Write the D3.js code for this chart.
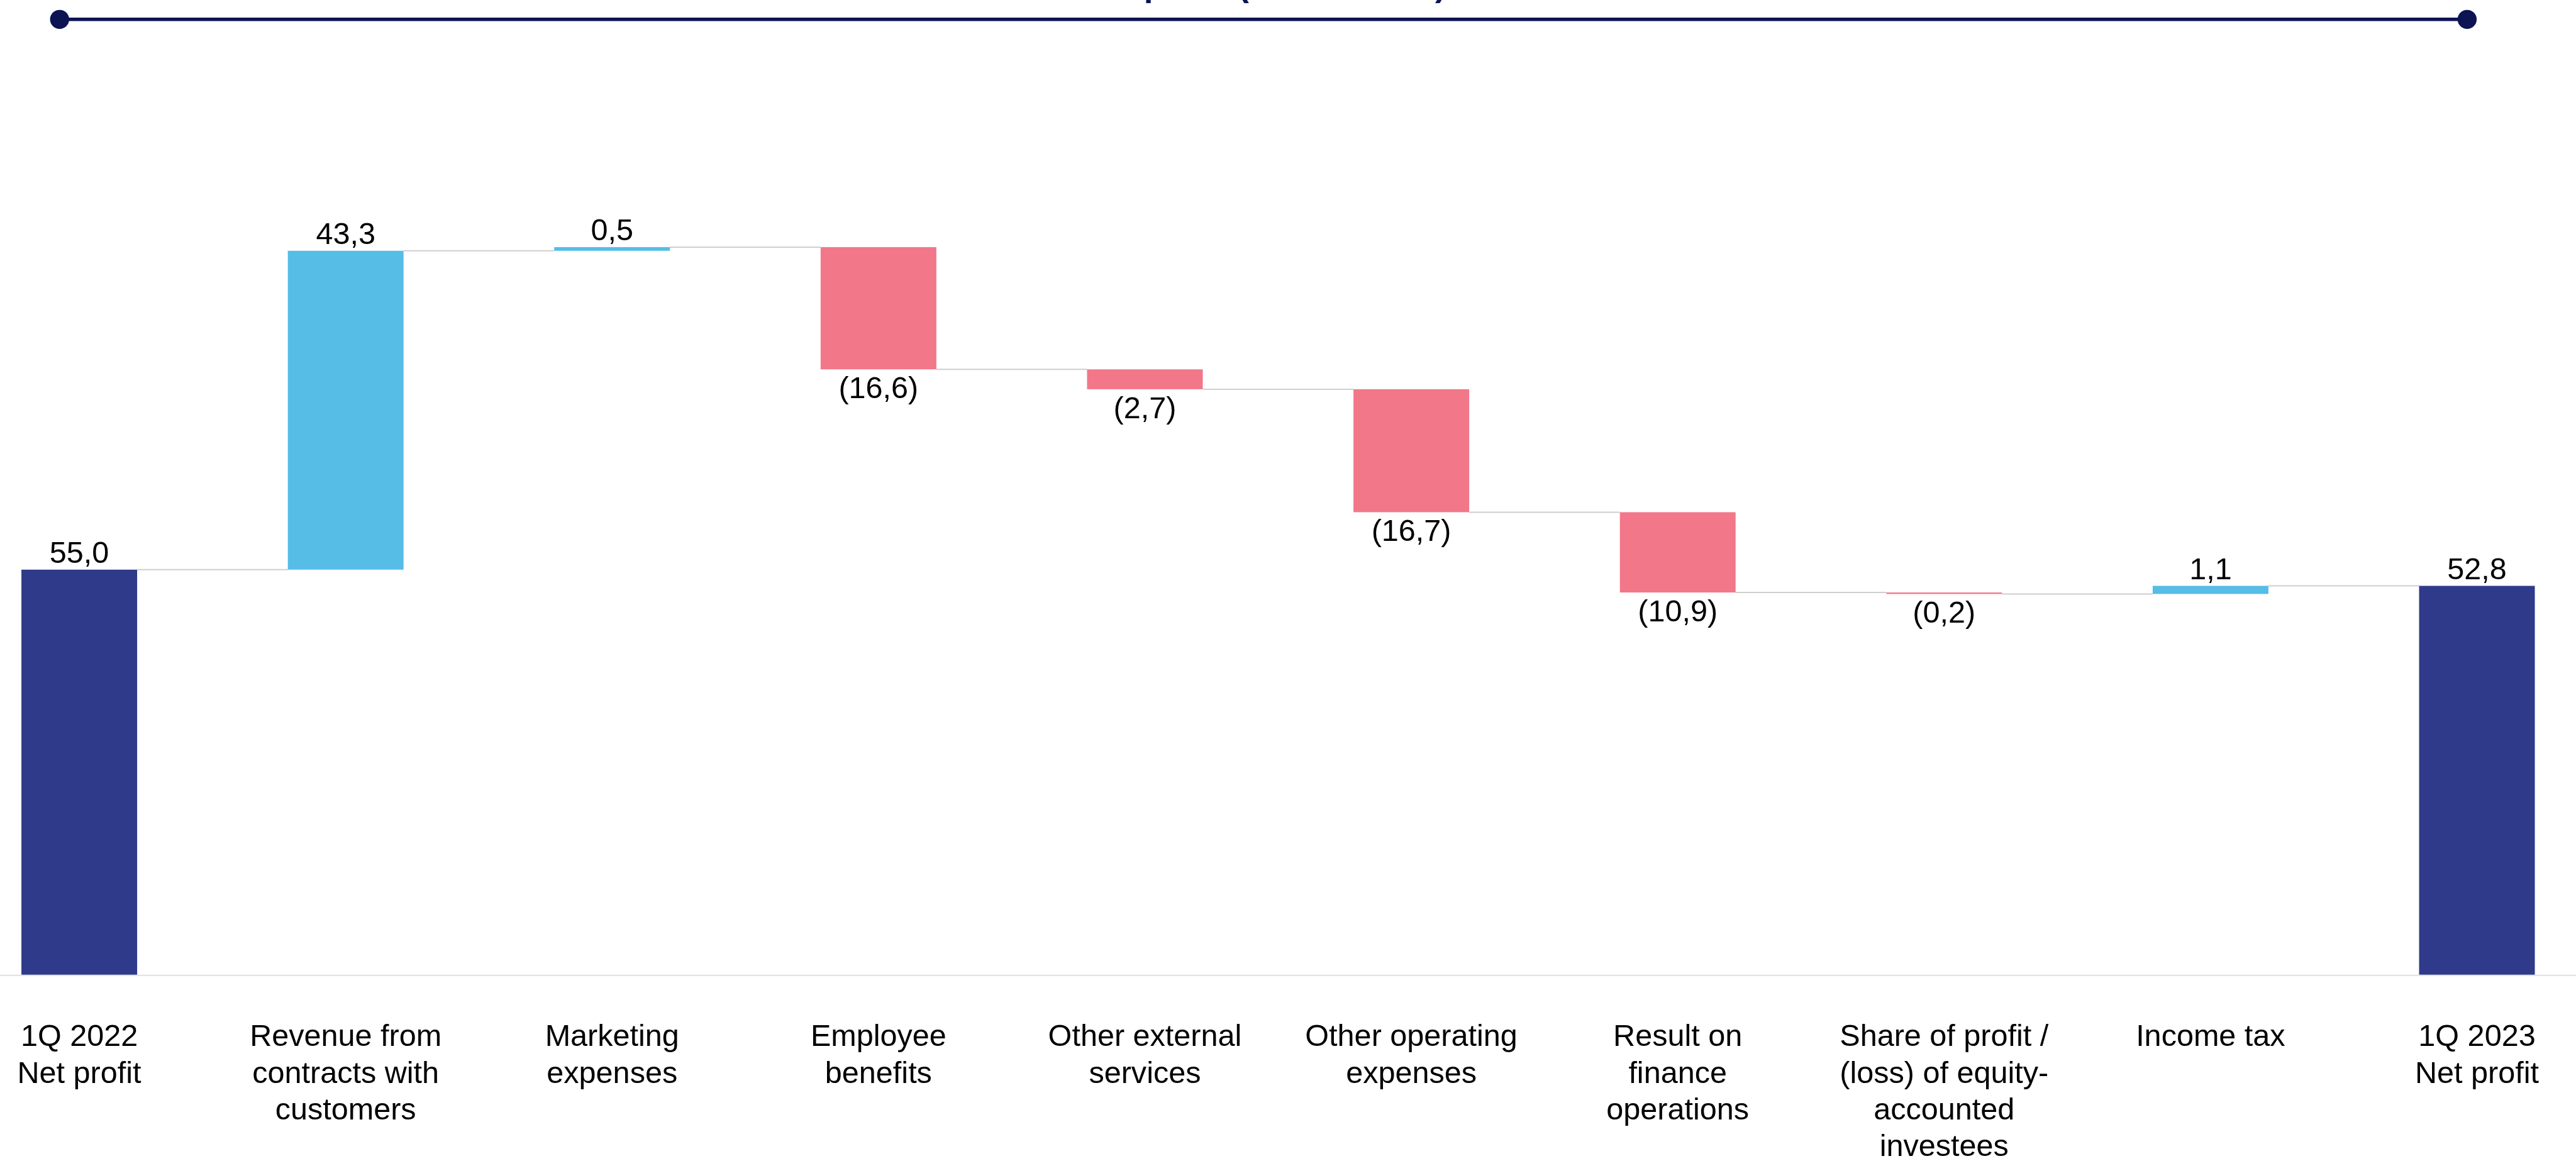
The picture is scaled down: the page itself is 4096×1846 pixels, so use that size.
<!DOCTYPE html>
<html>
<head>
<meta charset="utf-8">
<script src="https://cdn.jsdelivr.net/npm/d3@7"></script>
<style>
  html, body { margin: 0; padding: 0; background: #ffffff; }
  svg { display: block; }
  text { font-family: "Liberation Sans", Arial, sans-serif; }
</style>
</head>
<body>
<svg id="chart" width="4096" height="1846"></svg>
<script>
// Net profit bridge, 1Q 2022 -> 1Q 2023
const categories = [
  "1Q 2022 Net profit",
  "Revenue from contracts with customers",
  "Marketing expenses",
  "Employee benefits",
  "Other external services",
  "Other operating expenses",
  "Result on finance operations",
  "Share of profit / (loss) of equity-accounted investees",
  "Income tax",
  "1Q 2023 Net profit"
];
const categoryLines = [
  ["1Q 2022", "Net profit"],
  ["Revenue from", "contracts with", "customers"],
  ["Marketing", "expenses"],
  ["Employee", "benefits"],
  ["Other external", "services"],
  ["Other operating", "expenses"],
  ["Result on", "finance", "operations"],
  ["Share of profit /", "(loss) of equity-", "accounted", "investees"],
  ["Income tax"],
  ["1Q 2023", "Net profit"]
];
const values = [55.0, 43.3, 0.5, -16.6, -2.7, -16.7, -10.9, -0.2, 1.1, 52.8];
const kinds = ["total", "delta", "delta", "delta", "delta", "delta", "delta", "delta", "delta", "total"];
const titleText = "Net profit (EUR million)";

const K = 0.92;               // drawing scale
const W = 4096, H = 1846;
const colors = { total: "#303a8a", up: "#55bde6", down: "#f27789" };

const svg = d3.select("#chart");

// running totals -> bar extents
let run = 0;
const bars = values.map((v, i) => {
  let lo, hi, type;
  if (kinds[i] === "total") {
    lo = 0; hi = v; run = v; type = "total";
  } else {
    const start = run;
    run = run + v;
    lo = Math.min(start, run); hi = Math.max(start, run);
    type = v >= 0 ? "up" : "down";
  }
  return { cat: categories[i], lines: categoryLines[i], value: v, lo, hi, end: run, type, kind: kinds[i] };
});

const x = d3.scaleBand()
  .domain(categories)
  .range([37 * K, 4381 * K])
  .paddingInner(0.5656)
  .paddingOuter(0);

const y = d3.scaleLinear()
  .domain([0, 110])
  .range([1684.5 * K, (1684.5 - 110 * 12.727) * K]);

const locale = d3.formatLocale({ decimal: ",", thousands: " ", grouping: [3], currency: ["", ""] });
const f1 = locale.format(".1f");
const fmt = v => v < 0 ? "(" + f1(Math.abs(v)) + ")" : f1(v);

// header rule with end dots and (clipped) title
svg.append("text")
  .attr("x", 2184 * K)
  .attr("y", -6 * K)
  .attr("text-anchor", "middle")
  .attr("font-size", 57.4 * K)
  .attr("font-weight", "bold")
  .attr("fill", "#0c1452")
  .text(titleText);

svg.append("line")
  .attr("x1", 103 * K).attr("x2", 4264 * K)
  .attr("y1", 33.5 * K).attr("y2", 33.5 * K)
  .attr("stroke", "#0c1452")
  .attr("stroke-width", 6 * K);

svg.selectAll("circle.end")
  .data([103, 4264])
  .join("circle")
  .attr("class", "end")
  .attr("cx", d => d * K)
  .attr("cy", 33.5 * K)
  .attr("r", 16.5 * K)
  .attr("fill", "#0c1452");

// baseline
svg.append("line")
  .attr("x1", 0).attr("x2", W)
  .attr("y1", y(0) + 1.2 * K).attr("y2", y(0) + 1.2 * K)
  .attr("stroke", "#e4e4e4")
  .attr("stroke-width", 2.5 * K);

// connectors between consecutive bars
const connectors = bars.slice(0, -1).map((b, i) => ({
  x1: x(b.cat) + x.bandwidth(),
  x2: x(bars[i + 1].cat),
  level: b.end
}));
svg.selectAll("line.conn")
  .data(connectors)
  .join("line")
  .attr("class", "conn")
  .attr("x1", d => d.x1).attr("x2", d => d.x2)
  .attr("y1", d => y(d.level)).attr("y2", d => y(d.level))
  .attr("stroke", "#cfcfcf")
  .attr("stroke-width", 2.2 * K);

// bars
svg.selectAll("rect.bar")
  .data(bars)
  .join("rect")
  .attr("class", "bar")
  .attr("x", d => x(d.cat))
  .attr("width", x.bandwidth())
  .attr("y", d => y(d.hi))
  .attr("height", d => Math.max(0.5, y(d.lo) - y(d.hi)))
  .attr("fill", d => colors[d.type]);

// value labels
svg.selectAll("text.val")
  .data(bars)
  .join("text")
  .attr("class", "val")
  .attr("x", d => x(d.cat) + x.bandwidth() / 2)
  .attr("y", d => d.value >= 0 ? y(d.hi) - 11.5 * K : y(d.lo) + 50 * K)
  .attr("text-anchor", "middle")
  .attr("font-size", 52.8 * K)
  .attr("fill", "#000000")
  .text(d => fmt(d.value));

// category labels
const cat = svg.selectAll("text.cat")
  .data(bars)
  .join("text")
  .attr("class", "cat")
  .attr("x", d => x(d.cat) + x.bandwidth() / 2)
  .attr("y", 1808 * K)
  .attr("text-anchor", "middle")
  .attr("font-size", 52.8 * K)
  .attr("fill", "#000000");
cat.selectAll("tspan")
  .data(d => d.lines.map(l => ({ l, cx: x(d.cat) + x.bandwidth() / 2 })))
  .join("tspan")
  .attr("x", d => d.cx)
  .attr("dy", (d, i) => i === 0 ? 0 : 63.4 * K)
  .text(d => d.l);
</script>
</body>
</html>
